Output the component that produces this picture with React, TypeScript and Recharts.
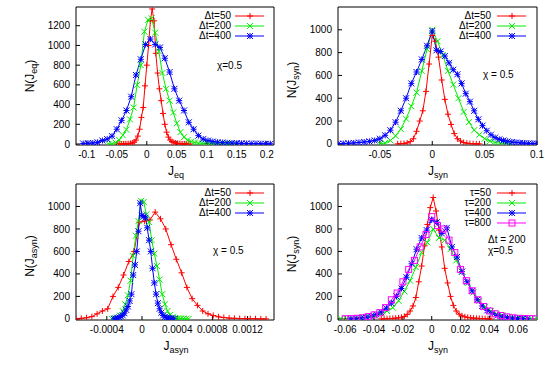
import React from 'react';
import { LineChart, Line, XAxis, YAxis } from 'recharts';

const FONT = "'Liberation Sans', Arial, Helvetica, sans-serif";
const RED = '#ff0000';
const GREEN = '#00ee00';
const BLUE = '#0000ff';
const MAGENTA = '#ff00ff';

// ---------- Panel 1 : J_eq ----------
const p1XTicks = [-0.1, -0.05, 0, 0.05, 0.1, 0.15, 0.2];
const p1YTicks = [0, 200, 400, 600, 800, 1000, 1200];
const p1RedX = [-0.048,-0.045,-0.042,-0.039,-0.036,-0.033,-0.030,-0.027,-0.024,-0.021,-0.018,-0.015,-0.012,-0.009,-0.006,-0.003,0,0.003,0.006,0.009,0.012,0.015,0.018,0.021,0.024,0.027,0.030,0.033,0.036,0.039,0.042,0.045,0.048,0.051,0.054,0.057,0.060,0.063,0.066,0.069,0.072];
const p1RedY = [0,0,0,1,1,2,3,5,10,20,40,80,150,270,370,590,800,1000,1250,1370,1250,920,720,560,440,310,200,120,70,40,25,15,10,6,4,2,1,1,0,0,0];
const p1GreenX = [-0.064,-0.058,-0.052,-0.046,-0.040,-0.034,-0.028,-0.022,-0.016,-0.010,-0.004,0.002,0.008,0.014,0.020,0.026,0.032,0.038,0.044,0.050,0.056,0.062,0.068,0.074,0.080,0.086,0.092,0.098,0.104,0.110,0.116,0.122,0.128,0.134,0.140,0.146];
const p1GreenY = [0,3,15,40,90,145,250,370,600,800,1140,1260,1275,1130,940,720,560,440,320,210,120,70,40,25,15,10,7,5,4,3,2,2,1,1,0,0];
const p1BlueX = [-0.106,-0.098,-0.090,-0.082,-0.074,-0.066,-0.058,-0.050,-0.042,-0.034,-0.026,-0.018,-0.010,-0.002,0.006,0.014,0.022,0.030,0.038,0.046,0.054,0.062,0.070,0.078,0.086,0.094,0.102,0.110,0.118,0.126,0.134,0.142,0.150,0.158,0.166,0.174,0.182,0.190,0.198,0.206];
const p1BlueY = [5,8,10,17,35,50,80,150,240,340,480,700,860,1010,1065,1010,980,870,730,560,440,340,220,150,85,50,35,25,18,14,12,10,8,7,5,4,4,3,2,2];

// ---------- Panel 2 : J_syn ----------
const p2XTicks = [-0.05, 0, 0.05, 0.1];
const p2YTicks = [0, 200, 400, 600, 800, 1000];
const p2RedX = [-0.033,-0.030,-0.027,-0.024,-0.021,-0.018,-0.015,-0.012,-0.009,-0.006,-0.003,0,0.003,0.006,0.009,0.012,0.015,0.018,0.021,0.024,0.027,0.030,0.033,0.036,0.039,0.042,0.045];
const p2RedY = [0,2,4,8,20,45,110,200,290,460,700,950,900,760,560,390,260,170,90,45,25,12,6,3,1,0,0];
const p2GreenX = [-0.050,-0.045,-0.040,-0.035,-0.030,-0.025,-0.020,-0.015,-0.010,-0.005,0,0.005,0.010,0.015,0.020,0.025,0.030,0.035,0.040,0.045,0.050,0.055,0.060,0.065,0.070,0.075];
const p2GreenY = [0,8,30,70,130,220,330,450,640,830,1000,900,780,640,520,400,280,190,120,80,45,25,12,6,2,0];
const p2BlueX = [-0.090,-0.085,-0.080,-0.075,-0.070,-0.065,-0.060,-0.055,-0.050,-0.045,-0.040,-0.035,-0.030,-0.025,-0.020,-0.015,-0.010,-0.005,0,0.004,0.008,0.012,0.016,0.020,0.024,0.028,0.032,0.036,0.040,0.044,0.048,0.052,0.056,0.060,0.064,0.068,0.072,0.076,0.080,0.084,0.088,0.092,0.096,0.100];
const p2BlueY = [0,3,5,8,12,16,22,30,45,75,120,190,290,400,530,630,740,860,990,820,810,770,710,650,610,530,440,370,290,215,160,115,80,55,40,30,22,16,12,9,6,4,3,2];

// ---------- Panel 3 : J_asyn ----------
const p3XTicks = [-0.0004, 0, 0.0004, 0.0008, 0.0012];
const p3YTicks = [0, 200, 400, 600, 800, 1000];
const p3RedX = [-0.00075,-0.00069,-0.00063,-0.00057,-0.00051,-0.00045,-0.00039,-0.00033,-0.00027,-0.00021,-0.00015,-0.00009,-0.00003,0.00003,0.00009,0.00015,0.00021,0.00027,0.00033,0.00039,0.00045,0.00051,0.00057,0.00063,0.00069,0.00075,0.00081,0.00087,0.00093,0.00099,0.00105,0.00111,0.00117,0.00123,0.00129,0.00135,0.00141];
const p3RedY = [0,5,10,20,45,70,90,200,280,390,510,600,860,870,880,950,890,800,660,530,410,280,180,120,70,45,30,18,12,7,5,3,2,2,1,0,0];
const p3GreenX = [-0.00034,-0.00031,-0.00028,-0.00025,-0.00022,-0.00019,-0.00016,-0.00013,-0.00010,-0.00007,-0.00004,-0.00001,0.00002,0.00005,0.00008,0.00011,0.00014,0.00017,0.00020,0.00023,0.00026,0.00029,0.00032,0.00035,0.00038,0.00041,0.00044,0.00047,0.00050,0.00053];
const p3GreenY = [0,3,10,30,70,130,210,340,560,740,870,1050,1040,930,860,700,580,470,350,220,130,70,35,18,9,5,3,2,1,0];
const p3BlueX = [-0.00032,-0.00030,-0.00028,-0.00026,-0.00024,-0.00022,-0.00020,-0.00018,-0.00016,-0.00014,-0.00012,-0.00010,-0.00008,-0.00006,-0.00004,-0.00002,0,0.00002,0.00004,0.00006,0.00008,0.00010,0.00012,0.00014,0.00016,0.00018,0.00020,0.00022,0.00024,0.00026,0.00028,0.00030,0.00032,0.00034,0.00036];
const p3BlueY = [0,3,8,14,22,32,50,80,110,160,220,390,480,600,780,1030,920,910,900,810,700,600,450,320,220,140,90,55,30,18,12,8,5,3,1];

// ---------- Panel 4 : J_syn, tau ----------
const p4XTicks = [-0.06, -0.04, -0.02, 0, 0.02, 0.04, 0.06];
const p4YTicks = [0, 200, 400, 600, 800, 1000];
const p4RedX = [-0.035,-0.033,-0.031,-0.029,-0.027,-0.025,-0.023,-0.021,-0.019,-0.017,-0.015,-0.013,-0.011,-0.009,-0.007,-0.005,-0.003,-0.001,0.001,0.003,0.005,0.007,0.009,0.011,0.013,0.015,0.017,0.019,0.021,0.023,0.025,0.027,0.029,0.031,0.033,0.035,0.037,0.039,0.041];
const p4RedY = [0,1,2,3,4,6,9,14,22,40,70,115,190,330,470,650,840,990,1080,960,790,640,450,320,200,120,70,42,28,18,13,9,7,5,4,3,2,1,0];
const p4GreenX = [-0.063,-0.059,-0.055,-0.051,-0.047,-0.043,-0.039,-0.035,-0.031,-0.027,-0.023,-0.019,-0.015,-0.011,-0.007,-0.003,0.001,0.005,0.009,0.013,0.017,0.021,0.025,0.029,0.033,0.037,0.041,0.045,0.049,0.053,0.057,0.061,0.065,0.069,0.073];
const p4GreenY = [3,4,5,7,11,17,27,47,70,100,160,245,340,460,590,680,800,720,700,620,520,420,320,235,160,105,70,45,30,20,13,9,6,4,3];
const p4BlueX = [-0.056,-0.0525,-0.049,-0.0455,-0.042,-0.0385,-0.035,-0.0315,-0.028,-0.0245,-0.021,-0.0175,-0.014,-0.0105,-0.007,-0.0035,0,0.0035,0.007,0.0105,0.014,0.0175,0.021,0.0245,0.028,0.0315,0.035,0.0385,0.042,0.0455,0.049,0.0525,0.056,0.0595,0.063,0.0665];
const p4BlueY = [2,4,8,15,25,40,60,95,140,200,270,370,490,620,720,790,880,860,760,810,640,550,420,330,250,170,115,75,50,30,18,11,7,4,3,2];
const p4MagX = [-0.060,-0.056,-0.052,-0.048,-0.044,-0.040,-0.036,-0.032,-0.028,-0.024,-0.020,-0.016,-0.012,-0.008,-0.004,0,0.004,0.008,0.012,0.016,0.020,0.024,0.028,0.032,0.036,0.040,0.044,0.048,0.052,0.056,0.060,0.064,0.068,0.072];
const p4MagY = [1,2,5,10,20,35,55,100,170,230,330,440,520,640,750,910,830,800,700,590,440,340,250,170,110,70,45,30,18,10,5,3,2,1];

type Shape = 'plus' | 'cross' | 'star' | 'square';
type Series = { name: string; xs: number[]; ys: number[]; color: string; shape: Shape };

const toPoints = (xs: number[], ys: number[]) => xs.map((x, i) => ({ x, y: ys[i] }));
const fmt = (v: number) => String(v);
const tickStyle = { fill: '#000', fontSize: 10, fontFamily: FONT };

function marker(shape: Shape, cx: number, cy: number, color: string, key: string) {
  const s = 3;
  if (shape === 'square') {
    return <rect key={key} x={cx - s} y={cy - s} width={2 * s} height={2 * s} fill="none" stroke={color} strokeWidth={1} />;
  }
  let d = '';
  if (shape === 'plus' || shape === 'star') d += `M${cx - s} ${cy}H${cx + s}M${cx} ${cy - s}V${cy + s}`;
  if (shape === 'cross' || shape === 'star') d += `M${cx - s} ${cy - s}L${cx + s} ${cy + s}M${cx - s} ${cy + s}L${cx + s} ${cy - s}`;
  return <path key={key} d={d} stroke={color} strokeWidth={1} fill="none" />;
}

type PanelProps = {
  left: number; top: number; width: number; height: number;
  margin: { top: number; right: number; bottom: number; left: number };
  yWidth: number; xHeight: number;
  xDomain: [number, number]; xTicks: number[];
  yDomain: [number, number]; yTicks: number[];
  series: Series[];
};

function Panel(p: PanelProps) {
  const ax = { stroke: '#000', strokeWidth: 1 };
  return (
    <div style={{ position: 'absolute', left: p.left, top: p.top, width: p.width, height: p.height }}>
      <LineChart width={p.width} height={p.height} margin={p.margin}>
        <XAxis xAxisId="b" type="number" dataKey="x" domain={p.xDomain} ticks={p.xTicks} interval={0}
          allowDataOverflow height={p.xHeight} tickSize={-4} tickMargin={10} tick={tickStyle}
          tickFormatter={fmt} axisLine={ax} tickLine={ax} />
        <XAxis xAxisId="t" orientation="top" type="number" dataKey="x" domain={p.xDomain} ticks={p.xTicks}
          interval={0} allowDataOverflow height={1} tickSize={-4} tick={false} axisLine={ax} tickLine={ax} />
        <YAxis yAxisId="l" type="number" domain={p.yDomain} ticks={p.yTicks} interval={0} allowDataOverflow
          width={p.yWidth} tickSize={-4} tickMargin={10} tick={tickStyle} tickFormatter={fmt}
          axisLine={ax} tickLine={ax} />
        <YAxis yAxisId="r" orientation="right" type="number" domain={p.yDomain} ticks={p.yTicks} interval={0}
          allowDataOverflow width={1} tickSize={-4} tick={false} axisLine={ax} tickLine={ax} />
        {p.series.map((s) => (
          <Line key={s.name} name={s.name} xAxisId="b" yAxisId="l" data={toPoints(s.xs, s.ys)} dataKey="y"
            type="linear" stroke={s.color} strokeWidth={1} isAnimationActive={false} activeDot={false}
            dot={(d: any) => marker(s.shape, d.cx, d.cy, s.color, `${s.name}-${d.index}`)} />
        ))}
      </LineChart>
    </div>
  );
}

function LegendBox({ textRight, sampleLeft, rows }: { textRight: number; sampleLeft: number; rows: { y: number; s: Series }[] }) {
  return (
    <>
      {rows.map(({ y, s }) => (
        <React.Fragment key={s.name}>
          <div style={{ position: 'absolute', left: textRight - 80, width: 80, top: y - 6, height: 12, lineHeight: '12px', textAlign: 'right', fontSize: 10, fontFamily: FONT, color: '#000' }}>{s.name}</div>
          <svg style={{ position: 'absolute', left: sampleLeft, top: y - 5 }} width={30} height={10}>
            <line x1={0} y1={5} x2={29} y2={5} stroke={s.color} strokeWidth={1} />
            {marker(s.shape, 15, 5, s.color, 'm')}
          </svg>
        </React.Fragment>
      ))}
    </>
  );
}

function Txt({ left, top, children, align = 'left', width = 80 }: any) {
  return (
    <div style={{ position: 'absolute', left, top, width, height: 14, lineHeight: '14px', textAlign: align, fontSize: 10, fontFamily: FONT, color: '#000', whiteSpace: 'nowrap' }}>{children}</div>
  );
}

function XLabel({ cx, cy, main, sub }: { cx: number; cy: number; main: string; sub: string }) {
  return (
    <div style={{ position: 'absolute', left: cx - 40, top: cy - 8, width: 80, height: 16, lineHeight: '16px', textAlign: 'center', fontSize: 12, fontFamily: FONT, color: '#000', whiteSpace: 'nowrap' }}>
      {main}<span style={{ fontSize: 9, position: 'relative', top: 3 }}>{sub}</span>
    </div>
  );
}

function YLabel({ cx, cy, sub }: { cx: number; cy: number; sub: string }) {
  return (
    <div style={{ position: 'absolute', left: cx - 40, top: cy - 8, width: 80, height: 16, lineHeight: '16px', textAlign: 'center', fontSize: 12, fontFamily: FONT, color: '#000', whiteSpace: 'nowrap', transform: 'rotate(-90deg)', transformOrigin: '50% 50%' }}>
      N(J<span style={{ fontSize: 9, position: 'relative', top: 3 }}>{sub}</span>)
    </div>
  );
}

export default function App() {
  const s1: Series[] = [
    { name: 'Δt=50', xs: p1RedX, ys: p1RedY, color: RED, shape: 'plus' },
    { name: 'Δt=200', xs: p1GreenX, ys: p1GreenY, color: GREEN, shape: 'cross' },
    { name: 'Δt=400', xs: p1BlueX, ys: p1BlueY, color: BLUE, shape: 'star' },
  ];
  const s2: Series[] = [
    { name: 'Δt=50', xs: p2RedX, ys: p2RedY, color: RED, shape: 'plus' },
    { name: 'Δt=200', xs: p2GreenX, ys: p2GreenY, color: GREEN, shape: 'cross' },
    { name: 'Δt=400', xs: p2BlueX, ys: p2BlueY, color: BLUE, shape: 'star' },
  ];
  const s3: Series[] = [
    { name: 'Δt=50', xs: p3RedX, ys: p3RedY, color: RED, shape: 'plus' },
    { name: 'Δt=200', xs: p3GreenX, ys: p3GreenY, color: GREEN, shape: 'cross' },
    { name: 'Δt=400', xs: p3BlueX, ys: p3BlueY, color: BLUE, shape: 'star' },
  ];
  const s4: Series[] = [
    { name: 'τ=50', xs: p4RedX, ys: p4RedY, color: RED, shape: 'plus' },
    { name: 'τ=200', xs: p4GreenX, ys: p4GreenY, color: GREEN, shape: 'cross' },
    { name: 'τ=400', xs: p4BlueX, ys: p4BlueY, color: BLUE, shape: 'star' },
    { name: 'τ=800', xs: p4MagX, ys: p4MagY, color: MAGENTA, shape: 'square' },
  ];
  return (
    <div style={{ position: 'absolute', left: 0, top: 0, width: 545, height: 376, background: '#fff', overflow: 'hidden', fontFamily: FONT }}>
      <Panel left={0} top={0} width={276} height={188} margin={{ top: 6, right: 1, bottom: 0, left: 0 }}
        yWidth={76} xHeight={43} xDomain={[-0.118, 0.212]} xTicks={p1XTicks} yDomain={[-10, 1390]} yTicks={p1YTicks} series={s1} />
      <Panel left={270} top={0} width={275} height={188} margin={{ top: 6, right: 7, bottom: 0, left: 0 }}
        yWidth={68} xHeight={43} xDomain={[-0.09, 0.1]} xTicks={p2XTicks} yDomain={[-10, 1200]} yTicks={p2YTicks} series={s2} />
      <Panel left={0} top={180} width={276} height={196} margin={{ top: 3, right: 1, bottom: 0, left: 0 }}
        yWidth={76} xHeight={56} xDomain={[-0.00075, 0.0015]} xTicks={p3XTicks} yDomain={[-10, 1200]} yTicks={p3YTicks} series={s3} />
      <Panel left={270} top={180} width={275} height={196} margin={{ top: 3, right: 7, bottom: 0, left: 0 }}
        yWidth={68} xHeight={56} xDomain={[-0.065, 0.073]} xTicks={p4XTicks} yDomain={[-10, 1200]} yTicks={p4YTicks} series={s4} />

      <LegendBox textRight={231} sampleLeft={235} rows={[{ y: 16, s: s1[0] }, { y: 26, s: s1[1] }, { y: 36, s: s1[2] }]} />
      <LegendBox textRight={491} sampleLeft={497} rows={[{ y: 16, s: s2[0] }, { y: 26, s: s2[1] }, { y: 36, s: s2[2] }]} />
      <LegendBox textRight={231} sampleLeft={235} rows={[{ y: 193, s: s3[0] }, { y: 203, s: s3[1] }, { y: 213, s: s3[2] }]} />
      <LegendBox textRight={491} sampleLeft={497} rows={[{ y: 193, s: s4[0] }, { y: 203, s: s4[1] }, { y: 213, s: s4[2] }, { y: 223, s: s4[3] }]} />

      <Txt left={217} top={59}>χ=0.5</Txt>
      <Txt left={483} top={68}>χ = 0.5</Txt>
      <Txt left={213} top={244}>χ = 0.5</Txt>
      <Txt left={488} top={233}>Δt = 200</Txt>
      <Txt left={488} top={244}>χ=0.5</Txt>

      <XLabel cx={176} cy={171} main="J" sub="eq" />
      <XLabel cx={438} cy={171} main="J" sub="syn" />
      <XLabel cx={176} cy={346} main="J" sub="asyn" />
      <XLabel cx={438} cy={346} main="J" sub="syn" />
      <YLabel cx={30} cy={76} sub="eq" />
      <YLabel cx={292} cy={80} sub="syn" />
      <YLabel cx={30} cy={256} sub="asyn" />
      <YLabel cx={292} cy={254} sub="syn" />
    </div>
  );
}
